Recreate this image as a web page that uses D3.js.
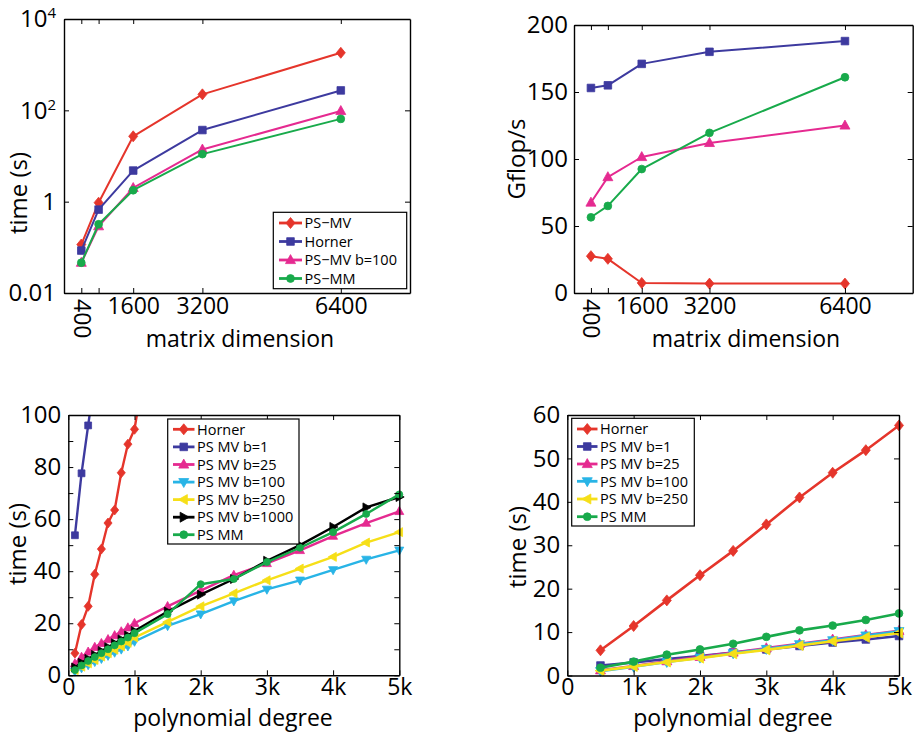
<!DOCTYPE html>
<html><head><meta charset="utf-8">
<script src="https://cdn.jsdelivr.net/npm/d3@7"></script>
<style>body{margin:0;background:#fff} text{font-family:"Open Sans",sans-serif;fill:#000}</style>
</head><body><svg id="c" width="920" height="733"></svg>
<script>
// ---------------- DATA ----------------
const matrixDims = [400, 800, 1600, 3200, 6400];
const matrixTickValues = [400, 800, 1600, 3200, 6400];
const matrixTickLabels = ["400", "", "1600", "3200", "6400"];

const timePSMV      = [0.115, 0.95, 27, 224, 1820];
const timeHorner    = [0.085, 0.67, 4.8, 37, 273];
const timePSMVb100  = [0.046, 0.29, 2.0, 13.9, 97];
const timePSMM      = [0.046, 0.32, 1.78, 11, 65];
const logTickValues = [0.01, 1, 100, 10000];
const logTickLabels = [["0.01", ""], ["1", ""], ["10", "2"], ["10", "4"]];

const gflopsPSMV     = [27.5, 25.5, 7.5, 7, 7];
const gflopsHorner   = [153, 155, 171, 180, 188];
const gflopsPSMVb100 = [67.5, 86.5, 101.5, 112, 125];
const gflopsPSMM     = [56.5, 65, 92.5, 119.5, 161];
const gflopsTicks    = [0, 50, 100, 150, 200];

// bottom-left: polynomial degree sweep (fine)
const degHornerA = [100, 200, 300, 400, 500, 600, 700, 800, 900, 1000, 1100];
const timeHornerA = [8.5, 19.5, 26.5, 38.8, 48.5, 58.5, 63.5, 77.8, 88.8, 94.5, 110];
const degB1A = [100, 200, 300, 400];
const timeB1A = [53.8, 77.6, 96, 114];
const degFullA = [100, 200, 300, 400, 500, 600, 700, 800, 900, 1000, 1500, 2000, 2500, 3000, 3500, 4000, 4500, 5000];
const timeB25A   = [4.5, 7, 9, 10.8, 12.3, 13.8, 15.3, 16.8, 18.3, 20, 26.5, 32.5, 38.5, 43, 48, 53.5, 58.5, 63];
const timeB100A  = [1.5, 2.8, 4, 5.2, 6.4, 7.6, 8.8, 10, 11.2, 13, 19, 23.5, 28.5, 33, 36.5, 40.5, 44.5, 48];
const timeB250A  = [2, 3.3, 4.6, 5.9, 7.2, 8.5, 9.8, 11.1, 12.5, 14.5, 20.5, 26.5, 31.5, 36.5, 41, 45.5, 51, 55];
const timeB1000A = [3, 4.8, 6.3, 7.8, 9.3, 10.8, 12.3, 13.8, 15.3, 17, 24.5, 31, 37, 44, 50, 57, 64.5, 68.5];
const timeMMA    = [2, 3.8, 5.5, 7, 8.5, 10, 11.5, 13, 14.5, 16.2, 23.5, 35, 37, 43.5, 49, 55, 62, 69.5];
const degTickValues = [0, 1000, 2000, 3000, 4000, 5000];
const degTickLabels = ["0", "1k", "2k", "3k", "4k", "5k"];
const timeTicksA = [0, 10, 20, 30, 40, 50, 60, 70, 80, 90, 100];

// bottom-right: polynomial degree sweep (coarse)
const degB = [500, 1000, 1500, 2000, 2500, 3000, 3500, 4000, 4500, 5000];
const timeHornerB = [5.8, 11.4, 17.3, 23.1, 28.7, 34.8, 41, 46.7, 51.9, 57.6];
const timeB1B     = [2.3, 3.0, 3.8, 4.5, 5.3, 6.0, 6.8, 7.6, 8.3, 9.1];
const timeB25B    = [1.2, 2.2, 3.3, 4.3, 5.3, 6.3, 7.3, 8.3, 9.3, 10.3];
const timeB100B   = [1.0, 2.0, 3.1, 4.1, 5.1, 6.1, 7.2, 8.1, 9.2, 10.2];
const timeB250B   = [1.1, 2.1, 3.1, 4.0, 5.0, 5.9, 6.9, 7.9, 8.8, 9.8];
const timeMMB     = [1.8, 3.2, 4.8, 6.0, 7.3, 8.9, 10.4, 11.5, 12.8, 14.3];
const timeTicksB = [0, 10, 20, 30, 40, 50, 60];

const C = {red:"#e5352b", blue:"#3d3a9f", magenta:"#e52a90", green:"#18aa4b", cyan:"#28b4e6", yellow:"#f6df18", black:"#000000"};

// ---------------- HELPERS ----------------
const svg = d3.select("#c");
const FONT = 24;

function markerPath(type, s) {
  s = s || 1;
  const f = (pts) => "M" + pts.map(p => (p[0]*s).toFixed(2) + "," + (p[1]*s).toFixed(2)).join("L") + "Z";
  switch (type) {
    case "diamond": return f([[0,-5.5],[4.5,0],[0,5.5],[-4.5,0]]);
    case "square": return f([[-3.8,-3.8],[3.8,-3.8],[3.8,3.8],[-3.8,3.8]]);
    case "tri-up": return f([[0,-5.4],[5,3.6],[-5,3.6]]);
    case "tri-down": return f([[0,5.4],[5,-3.6],[-5,-3.6]]);
    case "tri-left": return f([[-5.4,0],[3.6,-5],[3.6,5]]);
    case "tri-right": return f([[5.4,0],[-3.6,-5],[-3.6,5]]);
    case "circle": {const r = 3.9*s; return `M${r},0A${r},${r} 0 1,1 ${-r},0A${r},${r} 0 1,1 ${r},0Z`;}
  }
}

let clipCount = 0;
function drawSeries(x, y, box, series, lw, ms) {
  const id = "clip" + (clipCount++);
  svg.append("clipPath").attr("id", id).append("rect")
    .attr("x", box.l).attr("y", box.t).attr("width", box.r - box.l).attr("height", box.b - box.t);
  const [y0, y1] = y.domain();
  const lo = Math.min(y0, y1), hi = Math.max(y0, y1);
  series.forEach(s => {
    const pts = s.xs.map((d, i) => [d, s.ys[i]]);
    const line = d3.line().x(d => x(d[0])).y(d => y(d[1]));
    svg.append("path").attr("d", line(pts)).attr("fill", "none")
      .attr("stroke", s.color).attr("stroke-width", lw).attr("stroke-linejoin", "round")
      .attr("clip-path", `url(#${id})`);
    svg.append("g").selectAll("path").data(pts.filter(p => p[1] >= lo && p[1] <= hi)).join("path")
      .attr("transform", p => `translate(${x(p[0])},${y(p[1])})`)
      .attr("d", markerPath(s.marker, ms)).attr("fill", s.color).attr("stroke", s.color).attr("stroke-width", 0.8);
  });
}

function styleAxis(g, fs) {
  g.attr("font-size", fs || FONT).attr("font-family", '"Open Sans",sans-serif');
  g.selectAll("line").attr("stroke", "#000").attr("stroke-width", 1);
  g.selectAll(".domain").attr("stroke", "#000").attr("stroke-width", 1.4);
  g.selectAll("text").attr("fill", "#000");
}

function drawAxes(x, y, box, xt, xl, yt, yl, xPad, yPad, xfs) {
  const bottom = svg.append("g").attr("transform", `translate(0,${box.b})`)
    .call(d3.axisBottom(x).tickValues(xt).tickFormat((d, i) => xl[i]).tickSizeInner(-5).tickSizeOuter(0).tickPadding(xPad));
  svg.append("g").attr("transform", `translate(0,${box.t})`)
    .call(d3.axisTop(x).tickValues(xt).tickFormat("").tickSizeInner(-5).tickSizeOuter(0)).call(styleAxis);
  const left = svg.append("g").attr("transform", `translate(${box.l},0)`)
    .call(d3.axisLeft(y).tickValues(yt).tickFormat((d, i) => yl ? (Array.isArray(yl[i]) ? yl[i][0] : yl[i]) : d).tickSizeInner(-5).tickSizeOuter(0).tickPadding(yPad));
  svg.append("g").attr("transform", `translate(${box.r},0)`)
    .call(d3.axisRight(y).tickValues(yt).tickFormat("").tickSizeInner(-5).tickSizeOuter(0)).call(styleAxis);
  bottom.call(styleAxis, xfs); left.call(styleAxis);
  return {bottom, left};
}

function legend(box, rows, lx0, lx1, tx, entries, ms) {
  svg.append("rect").attr("x", box.l).attr("y", box.t).attr("width", box.r - box.l).attr("height", box.b - box.t)
    .attr("fill", "#fff").attr("stroke", "#000").attr("stroke-width", 1.2);
  entries.forEach((e, i) => {
    const yy = rows[i];
    svg.append("line").attr("x1", lx0).attr("x2", lx1).attr("y1", yy).attr("y2", yy)
      .attr("stroke", e.color).attr("stroke-width", 2.8);
    svg.append("path").attr("transform", `translate(${(lx0 + lx1) / 2},${yy})`)
      .attr("d", markerPath(e.marker, ms)).attr("fill", e.color).attr("stroke", e.color).attr("stroke-width", 0.8);
    svg.append("text").attr("x", tx).attr("y", yy).attr("dy", "0.36em").attr("font-size", 14.5).text(e.name);
  });
}

function yLabel(x, y, txt) {
  svg.append("text").attr("transform", `translate(${x},${y}) rotate(-90)`).attr("text-anchor", "middle")
    .attr("font-size", FONT).text(txt);
}
function xLabel(x, y, txt, fs) {
  svg.append("text").attr("x", x).attr("y", y).attr("text-anchor", "middle").attr("font-size", fs || FONT).text(txt);
}

// ---------------- PANEL 1: time vs matrix dim (log) ----------------
{
  const box = {l: 64, r: 410, t: 19, b: 293};
  const x = d3.scaleLinear().domain([0, 8000]).range([box.l, box.r]);
  const y = d3.scaleLog().domain([0.01, 10000]).range([box.b, box.t]);
  const series = [
    {xs: matrixDims, ys: timePSMV, color: C.red, marker: "diamond"},
    {xs: matrixDims, ys: timeHorner, color: C.blue, marker: "square"},
    {xs: matrixDims, ys: timePSMVb100, color: C.magenta, marker: "tri-up"},
    {xs: matrixDims, ys: timePSMM, color: C.green, marker: "circle"}
  ];
  drawSeries(x, y, box, series, 2, 1);
  const ax = drawAxes(x, y, box, matrixTickValues, matrixTickLabels, logTickValues, logTickLabels, 5, 8, 23);
  ax.left.selectAll(".tick text").each(function(d, i) {
    const lab = logTickLabels[i];
    if (lab[1]) {
      const t = d3.select(this).text(null);
      t.append("tspan").text(lab[0]);
      t.append("tspan").attr("font-size", 15).attr("dy", -9).text(lab[1]);
    }
  });
  ax.bottom.selectAll(".tick text").filter(d => d === 400)
    .attr("text-anchor", "start").attr("dy", "0.36em").attr("y", 0)
    .attr("transform", `translate(0,${6}) rotate(90)`);
  legend({l: 273.3, r: 406.7, t: 212.3, b: 288.7}, [223, 241.5, 260, 278.5], 279, 302, 304.5, [
    {name: "PS\u2212MV", color: C.red, marker: "diamond"},
    {name: "Horner", color: C.blue, marker: "square"},
    {name: "PS\u2212MV b=100", color: C.magenta, marker: "tri-up"},
    {name: "PS\u2212MM", color: C.green, marker: "circle"}
  ], 1);
  yLabel(27, 193, "time (s)");
  xLabel(240, 347, "matrix dimension", 23);
}

// ---------------- PANEL 2: Gflop/s ----------------
{
  const box = {l: 574, r: 912.7, t: 25, b: 293};
  const x = d3.scaleLinear().domain([0, 8000]).range([box.l, box.r]);
  const y = d3.scaleLinear().domain([0, 200]).range([box.b, box.t]);
  const series = [
    {xs: matrixDims, ys: gflopsPSMV, color: C.red, marker: "diamond"},
    {xs: matrixDims, ys: gflopsHorner, color: C.blue, marker: "square"},
    {xs: matrixDims, ys: gflopsPSMVb100, color: C.magenta, marker: "tri-up"},
    {xs: matrixDims, ys: gflopsPSMM, color: C.green, marker: "circle"}
  ];
  drawSeries(x, y, box, series, 2, 1);
  const ax = drawAxes(x, y, box, matrixTickValues, matrixTickLabels, gflopsTicks, null, 5, 6, 23);
  ax.bottom.selectAll(".tick text").filter(d => d === 400)
    .attr("text-anchor", "start").attr("dy", "0.36em").attr("y", 0)
    .attr("transform", `translate(0,${6}) rotate(90)`);
  yLabel(525, 159, "Gflop/s");
  xLabel(746, 347, "matrix dimension", 23);
}

// ---------------- PANEL 3: time vs degree (fine) ----------------
{
  const box = {l: 68.3, r: 399.3, t: 415, b: 675.3};
  const x = d3.scaleLinear().domain([0, 5000]).range([box.l, box.r]);
  const y = d3.scaleLinear().domain([0, 100]).range([box.b, box.t]);
  const series = [
    {xs: degHornerA, ys: timeHornerA, color: C.red, marker: "diamond"},
    {xs: degB1A, ys: timeB1A, color: C.blue, marker: "square"},
    {xs: degFullA, ys: timeB25A, color: C.magenta, marker: "tri-up"},
    {xs: degFullA, ys: timeB100A, color: C.cyan, marker: "tri-down"},
    {xs: degFullA, ys: timeB250A, color: C.yellow, marker: "tri-left"},
    {xs: degFullA, ys: timeB1000A, color: C.black, marker: "tri-right"},
    {xs: degFullA, ys: timeMMA, color: C.green, marker: "circle"}
  ];
  drawSeries(x, y, box, series, 2.4, 0.9);
  drawAxes(x, y, box, degTickValues, degTickLabels, timeTicksA, timeTicksA.map(v => v % 20 === 0 ? String(v) : ""), 3, 7, 23);
  legend({l: 167.7, r: 299, t: 419, b: 544}, [429.3, 446.9, 464.5, 482.1, 499.6, 517.2, 534.7], 173, 194.5, 197, [
    {name: "Horner", color: C.red, marker: "diamond"},
    {name: "PS MV b=1", color: C.blue, marker: "square"},
    {name: "PS MV b=25", color: C.magenta, marker: "tri-up"},
    {name: "PS MV b=100", color: C.cyan, marker: "tri-down"},
    {name: "PS MV b=250", color: C.yellow, marker: "tri-left"},
    {name: "PS MV b=1000", color: C.black, marker: "tri-right"},
    {name: "PS MM", color: C.green, marker: "circle"}
  ], 1);
  yLabel(26, 544, "time (s)");
  xLabel(233, 726, "polynomial degree", 23);
}

// ---------------- PANEL 4: time vs degree (coarse) ----------------
{
  const box = {l: 567.3, r: 899, t: 415, b: 675.5};
  const x = d3.scaleLinear().domain([0, 5000]).range([box.l, box.r]);
  const y = d3.scaleLinear().domain([0, 60]).range([box.b, box.t]);
  const series = [
    {xs: degB, ys: timeHornerB, color: C.red, marker: "diamond"},
    {xs: degB, ys: timeB1B, color: C.blue, marker: "square"},
    {xs: degB, ys: timeB25B, color: C.magenta, marker: "tri-up"},
    {xs: degB, ys: timeB100B, color: C.cyan, marker: "tri-down"},
    {xs: degB, ys: timeB250B, color: C.yellow, marker: "tri-left"},
    {xs: degB, ys: timeMMB, color: C.green, marker: "circle"}
  ];
  drawSeries(x, y, box, series, 2.6, 1);
  drawAxes(x, y, box, degTickValues, degTickLabels, timeTicksB, null, 3, 7, 23);
  legend({l: 571.7, r: 694.3, t: 418.3, b: 526}, [429, 446.5, 464, 481.3, 499, 516.7], 577, 597.5, 600, [
    {name: "Horner", color: C.red, marker: "diamond"},
    {name: "PS MV b=1", color: C.blue, marker: "square"},
    {name: "PS MV b=25", color: C.magenta, marker: "tri-up"},
    {name: "PS MV b=100", color: C.cyan, marker: "tri-down"},
    {name: "PS MV b=250", color: C.yellow, marker: "tri-left"},
    {name: "PS MM", color: C.green, marker: "circle"}
  ], 1);
  yLabel(526, 547, "time (s)");
  xLabel(733, 726, "polynomial degree", 23);
}
</script></body></html>
